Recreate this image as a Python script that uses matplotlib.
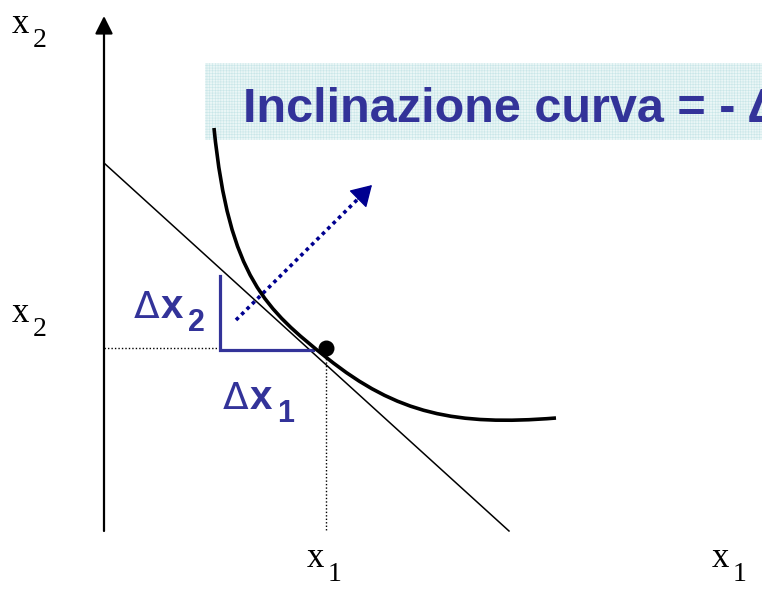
import matplotlib
matplotlib.use("Agg")
import numpy as np
import matplotlib.pyplot as plt
from matplotlib.path import Path
from matplotlib.patches import PathPatch, Rectangle

plt.rcParams["hatch.linewidth"] = 0.4

W, H = 762, 597
BLUE = "#333399"
NAVY = "#000090"

# Diagram geometry (drawing units, y grows downward)
origin = (104, 531)
x_axis_tip = (766, 531)
y_axis_tip = (104, 16)

budget_x = [104, 509]
budget_y = [163, 531]

# Indifference curve: two cubic Bezier pieces
curve_pts = [(214, 128), (229, 278), (267, 310), (327, 358),
             (397, 414), (456, 426), (556, 418)]

optimum = (326, 348)
delta_x1_span = [220, 313]
delta_x2_span = [276, 350]
shift_start = (236, 320)
shift_end = (372, 185)

title_text = "Inclinazione curva = - \u0394"

fig = plt.figure(figsize=(W / 100, H / 100), dpi=100)
ax = fig.add_axes([0, 0, 1, 1])
ax.set_xlim(0, W)
ax.set_ylim(H, 0)
ax.axis("off")

# Title banner
ax.add_patch(Rectangle((205, 63), 600, 77, facecolor="#eaf6f6",
                       edgecolor="#c9e6e8", hatch="++++++", lw=0, zorder=1))
ax.text(243, 122, title_text, color=BLUE, fontsize=35, fontweight="bold",
        family=["Liberation Sans", "DejaVu Sans"], ha="left",
        va="baseline", zorder=2)

# Axes with arrow heads
arrow_kw = dict(arrowstyle="-|>", mutation_scale=27, lw=1.6, color="black",
                shrinkA=0, shrinkB=0)
ax.annotate("", xy=x_axis_tip, xytext=origin, arrowprops=arrow_kw)
ax.annotate("", xy=y_axis_tip, xytext=origin, arrowprops=arrow_kw)

# Budget line
ax.plot(budget_x, budget_y, color="black", lw=1.1, zorder=3)

# Indifference curve
codes = [Path.MOVETO] + [Path.CURVE4] * 6
ax.add_patch(PathPatch(Path(curve_pts, codes), facecolor="none",
                       edgecolor="black", lw=2.6, zorder=4))

# Guide lines to the axes
ax.plot([origin[0], delta_x1_span[0]], [optimum[1], optimum[1]],
        color="black", lw=1.0, ls=(0, (1, 1.5)), zorder=2)
ax.plot([optimum[0], optimum[0]], [optimum[1], origin[1]],
        color="black", lw=1.0, ls=(0, (1, 1.5)), zorder=2)

# Delta bracket
ax.plot([delta_x1_span[0], delta_x1_span[0], delta_x1_span[1]],
        [delta_x2_span[0], delta_x2_span[1], delta_x2_span[1]],
        color=BLUE, lw=2.3, solid_joinstyle="miter", zorder=3)

# Shift direction: dotted shaft plus a solid head
p0 = np.array(shift_start, float)
p1 = np.array(shift_end, float)
u = (p1 - p0) / np.hypot(*(p1 - p0))
shaft_end = p1 - 12 * u
ax.plot([p0[0], shaft_end[0]], [p0[1], shaft_end[1]], color=NAVY, lw=2.6,
        ls=(0, (1, 1.1)), solid_capstyle="butt", zorder=3)
ax.annotate("", xy=tuple(p1), xytext=tuple(p1 - 20 * u),
            arrowprops=dict(arrowstyle="-|>,head_length=0.5,head_width=0.3",
                            mutation_scale=26, lw=1, color=NAVY,
                            shrinkA=0, shrinkB=0), zorder=3)

# Optimum point
ax.scatter([optimum[0]], [optimum[1]], s=110, color="black", zorder=6)

# Blue delta labels
def delta_label(x, y, sub):
    ax.text(x, y, "\u0394", fontsize=27, color=BLUE,
            family="DejaVu Sans", ha="left", va="baseline")
    ax.text(x + 27, y, "x", fontsize=29, color=BLUE, fontweight="bold",
            family="Liberation Sans", ha="left", va="baseline")
    ax.text(x + 54, y + 13, sub, fontsize=22, color=BLUE, fontweight="bold",
            family="Liberation Sans", ha="left", va="baseline")

delta_label(134, 318, "2")
delta_label(223, 409, "1")

# Axis names
ser = dict(family="Liberation Serif", color="black", ha="left",
           va="baseline")
for (xb, yb, sub) in [(12, 33, "2"), (12, 322, "2"),
                      (307, 567, "1"), (712, 567, "1")]:
    ax.text(xb, yb, "x", fontsize=25, **ser)
    ax.text(xb + 21, yb + 14, sub, fontsize=20, **ser)

fig.savefig("out.png", dpi=100)
